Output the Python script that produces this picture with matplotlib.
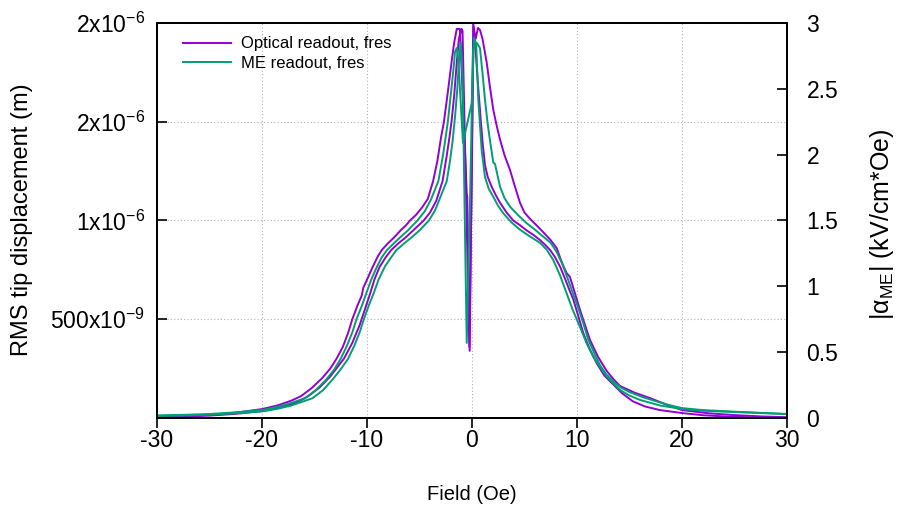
import numpy as np
import matplotlib
matplotlib.use("Agg")
import matplotlib.pyplot as plt

plt.rcParams["font.family"] = ["Liberation Sans", "DejaVu Sans"]
plt.rcParams["mathtext.default"] = "regular"

# --- Optical readout (left axis, micrometres) ---
# sweep shifted to negative field
opt_a_x = [-30, -27.5, -25, -22.5, -20, -18.5, -17.2, -16.3, -15.3, -14.3, -13.5, -12.9,
           -12.3, -11.8, -11.4, -10.9, -10.5, -10.35, -10.0, -9.5, -9.0, -8.6, -8.0, -7.4,
           -6.8, -6.3, -5.9, -5.3, -4.7, -4.2, -3.7, -3.3, -2.95, -2.67, -2.3, -1.95,
           -1.7, -1.45, -1.15, -0.5, -0.45, -0.22, 0.12,
           0.3, 0.45, 0.6, 0.76, 1.0, 1.24, 1.5, 1.88, 2.3, 2.67, 3.3, 3.93, 4.6, 5.2,
           5.9, 6.5, 7.0, 7.45, 7.9, 8.4, 8.9, 9.3, 9.65, 10.1, 10.6, 11.2, 11.9, 12.6,
           13.45, 14.3, 15.3, 16.5, 17.9, 20, 22, 24, 27, 30]
opt_a_um = [0.005, 0.009, 0.016, 0.027, 0.045, 0.064, 0.088, 0.11, 0.15, 0.2, 0.25, 0.3,
            0.36, 0.43, 0.5, 0.57, 0.62, 0.66, 0.7, 0.76, 0.815, 0.85, 0.885, 0.915,
            0.95, 0.975, 1.0, 1.03, 1.07, 1.11, 1.2, 1.3, 1.42, 1.5, 1.65, 1.8,
            1.9, 1.97, 1.97, 1.14, 1.12, 0.34, 2.0,
            1.9, 1.78, 1.67, 1.56, 1.4, 1.28, 1.22, 1.17, 1.125, 1.09, 1.04, 1.0, 0.975, 0.95,
            0.925, 0.9, 0.875, 0.85, 0.815, 0.765, 0.7, 0.645, 0.6, 0.52, 0.43, 0.35, 0.275, 0.215,
            0.17, 0.125, 0.085, 0.058, 0.04, 0.025, 0.014, 0.008, 0.003, 0.001]
# sweep shifted to positive field
opt_b_x = [-30, -27.5, -25, -22.5, -20, -18.5, -17.2, -16.3, -15.6, -14.5, -13.5, -12.2,
           -11.4, -10.7, -10.2, -9.7, -9.3, -8.8, -8.2, -7.7, -7.0, -6.3, -5.6, -5.1,
           -4.6, -4.0, -3.4, -2.8, -2.4, -2.15, -1.95, -1.7, -1.45, -1.25, -1.0, -0.9,
           -0.25, 0.0, 0.15, 0.35, 0.57,
           0.76, 1.0, 1.2, 1.4, 1.7, 2.03, 2.35, 2.67, 3.1, 3.62, 4.1, 4.57, 5.0, 5.5,
           6.16, 6.8, 7.5, 8.07, 8.4, 8.7, 9.0, 9.33, 9.7, 10.29, 10.8, 11.24, 12.0, 12.83,
           13.5, 14.1, 15.5, 16.95, 18.5, 20, 22.5, 24.9, 27.5, 30]
opt_b_um = [0.004, 0.007, 0.012, 0.021, 0.035, 0.05, 0.07, 0.09, 0.11, 0.155, 0.21, 0.3,
            0.38, 0.47, 0.55, 0.63, 0.7, 0.765, 0.815, 0.85, 0.885, 0.915, 0.95, 0.975,
            1.0, 1.04, 1.1, 1.2, 1.33, 1.42, 1.5, 1.63, 1.8, 1.92, 1.97, 1.96,
            0.36, 1.3, 1.98, 1.92, 1.975,
            1.965, 1.92, 1.86, 1.8, 1.68, 1.56, 1.48, 1.41, 1.33, 1.256, 1.17, 1.09, 1.04, 1.01,
            0.975, 0.94, 0.9, 0.86, 0.81, 0.77, 0.735, 0.714, 0.65, 0.547, 0.465, 0.395, 0.31, 0.238,
            0.195, 0.162, 0.128, 0.101, 0.068, 0.04, 0.024, 0.015, 0.008, 0.004]

# --- ME readout (right axis, kV/cm*Oe) ---
me_a_x = [-30, -27.5, -25, -22.5, -20, -18.5, -17.2, -15.9, -14.9, -13.9, -13.1, -12.5,
          -11.9, -11.4, -11.0, -10.5, -10.05, -9.6, -9.1, -8.6, -8.1, -7.4, -6.8, -6.1,
          -5.2, -4.5, -3.9, -3.2, -2.75, -2.3, -2.0, -1.7, -1.62, -1.45, -1.3, -0.86,
          -0.03, 0.19, 0.4,
          0.6, 0.92, 1.24, 1.6, 2.03, 2.5, 2.98, 3.7, 4.57, 5.5, 6.48, 7.1, 7.74, 8.4,
          9.0, 9.6, 10.29, 10.9, 11.55, 12.2, 12.83, 13.5, 14.1, 15.0, 16.0, 17.9, 20,
          22, 25, 30]
me_a = [0.02, 0.024, 0.03, 0.043, 0.06, 0.085, 0.115, 0.15, 0.21, 0.29, 0.37, 0.45,
        0.55, 0.65, 0.75, 0.85, 0.95, 1.05, 1.14, 1.22, 1.275, 1.33, 1.375, 1.425,
        1.5, 1.57, 1.66, 1.8, 2.0, 2.25, 2.47, 2.7, 2.78, 2.81, 2.72, 2.09,
        2.39, 2.89, 2.84,
        2.42, 2.035, 1.83, 1.74, 1.68, 1.61, 1.555, 1.49, 1.43, 1.38, 1.33, 1.28, 1.2, 1.08,
        0.95, 0.82, 0.69, 0.57, 0.466, 0.385, 0.315, 0.26, 0.213, 0.17, 0.137, 0.095, 0.068,
        0.055, 0.045, 0.03]
me_b_x = [-30, -27.5, -25, -22.5, -20, -18.5, -17.2, -15.2, -14.2, -13.3, -12.5, -11.8,
          -11.2, -10.7, -10.3, -9.85, -9.35, -8.9, -8.3, -7.7, -7.2, -6.4, -5.7, -5.0,
          -4.1, -3.5, -3.0, -2.4, -2.1, -1.85, -1.6, -1.4, -1.25, -1.07, -0.9, -0.5,
          -0.2, 0.1, 0.45,
          0.76, 1.0, 1.24, 1.5, 1.71, 2.03, 2.19, 2.67, 3.1, 3.62, 4.4, 5.2, 6.0, 6.79,
          7.5, 8.07, 8.6, 9.02, 9.6, 10.1, 10.6, 11.05, 11.6, 12.2, 12.8, 13.5, 14.2, 15.0,
          16.2, 17.4, 18.7, 20, 22, 25, 30]
me_b = [0.015, 0.019, 0.025, 0.036, 0.05, 0.07, 0.095, 0.15, 0.21, 0.29, 0.37, 0.45,
        0.55, 0.65, 0.75, 0.85, 0.95, 1.05, 1.15, 1.22, 1.275, 1.33, 1.375, 1.425,
        1.5, 1.58, 1.68, 1.8, 1.95, 2.1, 2.3, 2.5, 2.7, 2.85, 2.6, 0.57,
        1.6, 2.8, 2.85,
        2.81, 2.62, 2.415, 2.23, 2.11, 1.94, 1.93, 1.757, 1.67, 1.605, 1.54, 1.48, 1.43, 1.377,
        1.33, 1.26, 1.17, 1.08, 0.95, 0.84, 0.72, 0.6, 0.5, 0.40, 0.33, 0.275, 0.23, 0.197,
        0.16, 0.13, 0.1, 0.075, 0.06, 0.048, 0.03]

left_ticks = [0.5e-6, 1e-6, 1.5e-6, 2e-6]
left_labels = ["500x10$^{-9}$", "1x10$^{-6}$", "2x10$^{-6}$", "2x10$^{-6}$"]
right_ticks = [0, 0.5, 1, 1.5, 2, 2.5, 3]
right_labels = ["0", "0.5", "1", "1.5", "2", "2.5", "3"]
x_ticks = [-30, -20, -10, 0, 10, 20, 30]

purple = "#9400D3"
green = "#009E73"

fig = plt.figure(figsize=(8.98, 5.09), dpi=100)
ax = fig.add_axes([0.1748, 0.1788, 0.7016, 0.776])
ax2 = ax.twinx()

l1, = ax.plot(opt_a_x, np.array(opt_a_um) * 1e-6, color=purple, lw=1.4,
              label="Optical readout, fres")
ax.plot(opt_b_x, np.array(opt_b_um) * 1e-6, color=purple, lw=1.4)
l2, = ax2.plot(me_a_x, me_a, color=green, lw=1.4, label="ME readout, fres")
ax2.plot(me_b_x, me_b, color=green, lw=1.4)

ax.set_xlim(-30, 30)
ax.set_ylim(0, 2e-6)
ax2.set_ylim(0, 3)

ax.set_xticks(x_ticks)
ax.set_xticklabels([str(v) for v in x_ticks])
ax.set_yticks(left_ticks)
ax.set_yticklabels(left_labels)
ax2.set_yticks(right_ticks)
ax2.set_yticklabels(right_labels)

ax.grid(True, color="#b0b0b0", linestyle=(0, (1, 2)), lw=0.8)
ax.set_axisbelow(True)

ax.tick_params(axis="x", direction="out", length=7, width=1.2, labelsize=16.5, pad=1)
ax.tick_params(axis="y", direction="in", length=7, width=1.2, labelsize=16.5, pad=8.5)
ax2.tick_params(axis="y", direction="in", length=7, width=1.2, labelsize=16.5, pad=14)
for a in (ax, ax2):
    for s in a.spines.values():
        s.set_linewidth(1.4)

fig.text(472 / 898, 1 - 495 / 509, "Field (Oe)", fontsize=14.5, ha="center", va="center")
fig.text(22 / 898, 1 - 220 / 509, "RMS tip displacement (m)", fontsize=17,
         rotation=90, ha="center", va="center")
fig.text(882 / 898, 1 - 224 / 509, "|α$_{ME}$| (kV/cm*Oe)", fontsize=18,
         rotation=90, ha="center", va="center")

leg = ax2.legend(handles=[l1, l2], loc="upper left", bbox_to_anchor=(0.02, 1.0),
                 frameon=False, fontsize=12, handlelength=2.9, handletextpad=0.6,
                 labelspacing=0.25, borderaxespad=0.4)

fig.savefig("out.png", dpi=100)
